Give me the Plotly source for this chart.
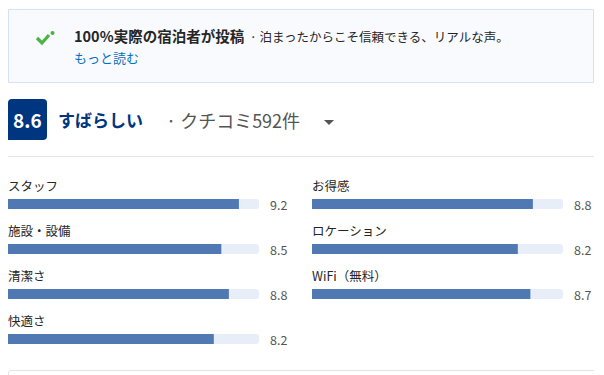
import plotly.graph_objects as go

W, H = 604, 375

left_cats = ["スタッフ", "施設・設備", "清潔さ", "快適さ"]
left_vals = [9.2, 8.5, 8.8, 8.2]
right_cats = ["お得感", "ロケーション", "WiFi（無料）"]
right_vals = [8.8, 8.2, 8.7]
max_score = 10
overall_score = "8.6"
overall_label = "すばらしい"
review_count = "クチコミ592件"

FONT = "Noto Sans CJK JP"
BAR = "#5079b4"
TRACK = "#e8eef8"

def px(x):
    return x / W

def py(y):
    return 1 - y / H

fig = go.Figure()

def add_col(cats, vals, xa):
    idx = list(range(len(cats)))
    fig.add_trace(go.Bar(
        x=[max_score] * len(cats), y=idx, orientation="h",
        marker=dict(color=TRACK, line=dict(width=0)),
        width=0.22, xaxis=xa, yaxis="y", hoverinfo="skip", showlegend=False,
    ))
    fig.add_trace(go.Bar(
        x=vals, y=idx, orientation="h",
        marker=dict(color=BAR, line=dict(width=0)),
        width=0.22, xaxis=xa, yaxis="y", showlegend=False,
    ))
    xr = "x" if xa == "x" else "x2"
    for i, (c, v) in enumerate(zip(cats, vals)):
        fig.add_annotation(x=0, y=i - 0.41, xref=xr, yref="y", text=c,
                           showarrow=False, xanchor="left", yanchor="middle", xshift=-2,
                           font=dict(family=FONT, size=12.5, color="#262626"))
        fig.add_annotation(x=max_score, y=i, xref=xr, yref="y", text=f"{v:.1f}",
                           showarrow=False, xanchor="left", yanchor="middle", xshift=9,
                           font=dict(family=FONT, size=12.5, color="#555555"))

add_col(left_cats, left_vals, "x")
add_col(right_cats, right_vals, "x2")

# row i -> pixel 204 + 45*i
fig.update_layout(
    width=W, height=H, margin=dict(l=0, r=0, t=0, b=0),
    paper_bgcolor="white", plot_bgcolor="white",
    barmode="overlay", barcornerradius=3,
    xaxis=dict(domain=[px(8), px(259)], range=[0, max_score], visible=False, fixedrange=True),
    xaxis2=dict(domain=[px(312), px(563)], range=[0, max_score], visible=False,
                anchor="y", fixedrange=True),
    yaxis=dict(domain=[0, 1], range=[(H - 204) / 45, -204 / 45], visible=False, fixedrange=True),
    font=dict(family=FONT),
)

shapes = []
# top info box
shapes.append(dict(type="rect", xref="paper", yref="paper",
                   x0=px(8.5), x1=px(593.5), y0=py(82.5), y1=py(9.5),
                   fillcolor="#f8fafe", line=dict(color="#d3e2f7", width=1), layer="below"))
# check mark
shapes.append(dict(type="path", xref="paper", yref="paper",
                   path=f"M {px(37)} {py(38)} L {px(42)} {py(43)} L {px(49)} {py(35)}",
                   line=dict(color="#4bb33f", width=3.2)))
shapes.append(dict(type="circle", xref="paper", yref="paper",
                   x0=px(50.5), x1=px(54.5), y0=py(35), y1=py(31),
                   fillcolor="#4bb33f", line=dict(width=0)))
# score box
shapes.append(dict(type="path", xref="paper", yref="paper",
                   path=(f"M {px(12)} {py(99)} L {px(43)} {py(99)} Q {px(47)} {py(99)} {px(47)} {py(103)} "
                         f"L {px(47)} {py(136)} Q {px(47)} {py(140)} {px(43)} {py(140)} "
                         f"L {px(8)} {py(140)} L {px(8)} {py(103)} Q {px(8)} {py(99)} {px(12)} {py(99)} Z"),
                   fillcolor="#003580", line=dict(width=0)))
# dropdown triangle
shapes.append(dict(type="path", xref="paper", yref="paper",
                   path=f"M {px(324)} {py(120)} L {px(334)} {py(120)} L {px(329)} {py(125)} Z",
                   fillcolor="#555555", line=dict(width=0)))
# separator
shapes.append(dict(type="line", xref="paper", yref="paper",
                   x0=px(8), x1=px(594), y0=py(156.5), y1=py(156.5),
                   line=dict(color="#e6e6e6", width=1)))
# bottom box (partial)
shapes.append(dict(type="path", xref="paper", yref="paper",
                   path=f"M {px(8.5)} {py(380)} L {px(8.5)} {py(373)} Q {px(8.5)} {py(370.5)} {px(11)} {py(370.5)} L {px(594)} {py(370.5)}",
                   line=dict(color="#e3e3e3", width=1)))
fig.update_layout(shapes=shapes)

anns = [
    dict(x=px(72), y=py(36), text="<span style='font-size:14.5px'><b>100%実際の宿泊者が投稿</b></span>&nbsp; · 泊まったからこそ信頼できる、リアルな声。",
         font=dict(size=12.5, color="#262626")),
    dict(x=px(72), y=py(57), text="もっと読む", font=dict(size=13, color="#0071c2")),
    dict(x=px(27.5), y=py(119.5), text=f"<b>{overall_score}</b>", xanchor="center",
         font=dict(size=19, color="white")),
    dict(x=px(56), y=py(119), text=f"<b>{overall_label}</b>", font=dict(size=17, color="#003580")),
    dict(x=px(164), y=py(120), text=f"· {review_count}", font=dict(size=18, color="#555555")),
]
for a in anns:
    d = dict(xref="paper", yref="paper", showarrow=False, xanchor="left", yanchor="middle")
    d.update(a)
    d["font"] = dict(family=FONT, **a["font"])
    fig.add_annotation(**d)

fig.write_html("out.html")
